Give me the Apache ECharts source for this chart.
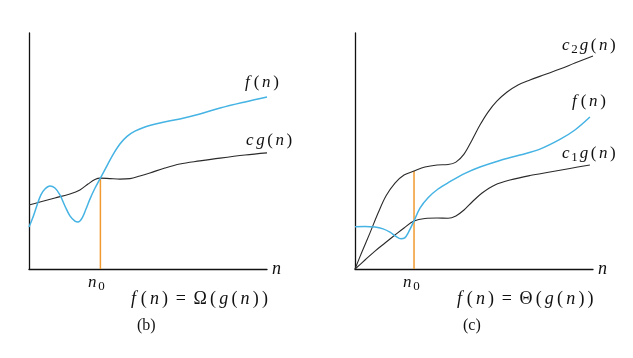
<!DOCTYPE html>
<html>
<head>
<meta charset="utf-8">
<script src="https://cdn.jsdelivr.net/npm/echarts@6/dist/echarts.min.js"></script>
<style>html,body{margin:0;padding:0;background:#fff;}#c{width:633px;height:358px;}</style>
</head>
<body>
<div id="c"></div>
<script>
// Panel (b): f(n) = Omega(g(n))
const fB = [[0,17.8],[1.7,22.0],[3.4,27.1],[5.0,31.4],[6.7,33.9],[8.8,35.2],[10.9,34.3],[13.0,31.4],[15.1,26.7],[17.2,22.5],[19.3,20.3],[20.6,19.9],[22.3,21.6],[23.9,25.3],[25.6,29.6],[27.7,34.2],[30.0,38.5],[32.8,43.8],[35.3,48.5],[38.2,53.0],[41.2,56.2],[44.5,58.4],[48.7,60.2],[55.0,61.9],[63.4,63.6],[71.8,65.7],[80.3,68.2],[90.8,70.8],[100,72.9]];
const cgB = [[0,27.1],[4.6,28.4],[10.9,30.1],[17.2,31.8],[21.4,33.5],[24.8,36.0],[27.7,37.9],[30.0,38.5],[34.0,38.3],[38.2,38.1],[42.4,38.3],[46.6,39.4],[50.8,40.7],[57.1,42.8],[63.4,44.5],[71.8,45.8],[80.3,47.0],[90.8,48.3],[100,49.2]];
const n0B = 30.0;
const n0TopB = 38.5;
// Panel (c): f(n) = Theta(g(n))
const c2gC = [[0,0],[2.9,7.2],[6.3,15.3],[9.7,23.7],[13.0,30.9],[16.8,36.4],[20.6,39.8],[24.8,41.5],[29.4,43.2],[34.5,44.1],[39.1,44.3],[42.4,45.3],[45.8,48.7],[49.2,54.7],[52.5,61.0],[55.9,66.5],[59.7,71.2],[63.9,75.0],[68.5,78.0],[73.5,80.1],[79.8,82.4],[86.1,84.7],[92.4,87.3],[100,90.3]];
const c1gC = [[0,0],[4.2,3.8],[8.4,7.6],[12.6,11.0],[16.8,14.4],[20.6,17.4],[24.8,20.3],[29.4,21.4],[34.5,21.6],[39.1,21.5],[42.4,22.5],[45.8,25.0],[49.2,28.4],[53.4,32.2],[58.8,35.6],[65.1,37.7],[73.5,39.6],[81.9,41.1],[90.3,42.6],[98.7,44.1]];
const fC = [[0,17.9],[4.2,18.0],[8.4,17.8],[11.8,17.0],[14.7,15.6],[17.2,13.8],[19.3,12.8],[20.9,13.2],[22.5,15.6],[24.8,20.4],[27.3,25.8],[30.7,30.2],[34.9,33.9],[39.9,37.0],[46.2,40.5],[52.5,43.2],[60.9,46.0],[69.3,48.3],[77.7,50.8],[86.1,54.9],[92.4,58.9],[98.7,64.4]];
const n0C = 24.8;
const n0TopC = 41.5;

const SERIF = '"Liberation Serif", "DejaVu Serif", serif';
const BLUE = '#45b3e3';
const BLACK = '#2a2a2a';
const ORANGE = '#f09a30';
const INK = '#111';

const chart = echarts.init(document.getElementById('c'), null, {renderer:'canvas'});

function axisX(gi){
  return {type:'value', gridIndex:gi, min:0, max:100,
    axisLine:{show:true, lineStyle:{color:INK, width:1.3}},
    axisTick:{show:false}, axisLabel:{show:false}, splitLine:{show:false},
    name:'n', nameLocation:'end', nameGap:5,
    nameTextStyle:{fontFamily:SERIF, fontStyle:'italic', fontSize:18, color:INK, verticalAlign:'middle'}};
}
function axisY(gi){
  return {type:'value', gridIndex:gi, min:0, max:100,
    axisLine:{show:true, lineStyle:{color:INK, width:1.3}},
    axisTick:{show:false}, axisLabel:{show:false}, splitLine:{show:false}};
}
function curve(data, gi, color, w){
  return {type:'line', xAxisIndex:gi, yAxisIndex:gi, data:data, smooth:0.35, symbol:'none',
    lineStyle:{color:color, width:w}, silent:true, animation:false, z:3};
}
function vline(x, top, gi){
  return {type:'line', xAxisIndex:gi, yAxisIndex:gi, data:[[x,0],[x,top]], symbol:'none',
    lineStyle:{color:ORANGE, width:1.5}, silent:true, animation:false, z:2};
}
function makeRich(fs, pad){
  return {
    i:{fontFamily:SERIF, fontStyle:'italic', fontSize:fs, color:INK, padding:[0,pad,0,pad]},
    f:{fontFamily:SERIF, fontStyle:'italic', fontSize:fs, color:INK, padding:[0,pad+1.5,0,pad+1.5]},
    r:{fontFamily:SERIF, fontSize:fs, color:INK, padding:[0,pad,0,pad]},
    w:{fontFamily:SERIF, fontSize:fs, color:INK, padding:[0,6,0,6]},
    s:{fontFamily:SERIF, fontSize:Math.round(fs*0.76), color:INK, padding:[8,0.5,0,0.5]}
  };
}
// build rich text: letters italic, '_d' subscript, '=' spaced, others roman
function mathText(str){
  let out = '';
  for (let k = 0; k < str.length; k++){
    const ch = str[k];
    if (ch === '_'){ out += '{s|' + str[k+1] + '}'; k++; }
    else if (ch === '='){ out += '{w|=}'; }
    else if (ch === ' '){ continue; }
    else if (ch === 'f'){ out += '{f|f}'; }
    else if (/[a-z]/.test(ch)){ out += '{i|' + ch + '}'; }
    else { out += '{r|' + ch + '}'; }
  }
  return out;
}
function txt(x, y, t, fs, pad){
  return {type:'text', left:x, top:y, silent:true,
    style:{text:mathText(t), rich:makeRich(fs || 17, pad === undefined ? 1.3 : pad), fill:INK}};
}
function plain(x, y, t){
  return {type:'text', left:x, top:y, silent:true, style:{text:t, font:'16px ' + SERIF, fill:INK}};
}

chart.setOption({
  animation:false,
  backgroundColor:'#fff',
  grid:[{left:29, top:33, width:238, height:236}, {left:355, top:33, width:238, height:236}],
  xAxis:[axisX(0), axisX(1)],
  yAxis:[axisY(0), axisY(1)],
  series:[
    vline(n0B, n0TopB, 0),
    curve(cgB, 0, BLACK, 1.1),
    curve(fB, 0, BLUE, 1.5),
    vline(n0C, n0TopC, 1),
    curve(c2gC, 1, BLACK, 1.1),
    curve(c1gC, 1, BLACK, 1.1),
    curve(fC, 1, BLUE, 1.5)
  ],
  graphic:[
    txt(245, 74, 'f(n)'),
    txt(246, 132, 'cg(n)'),
    txt(88, 274, 'n_0'),
    txt(131, 290, 'f(n) = Ω(g(n))', 18, 1.6),
    plain(137, 318, '(b)'),
    txt(562, 37, 'c_2g(n)'),
    txt(572, 93, 'f(n)'),
    txt(562, 145, 'c_1g(n)'),
    txt(403, 274, 'n_0'),
    txt(457, 290, 'f(n) = Θ(g(n))', 18, 1.6),
    plain(463, 318, '(c)')
  ]
});
</script>
</body>
</html>
